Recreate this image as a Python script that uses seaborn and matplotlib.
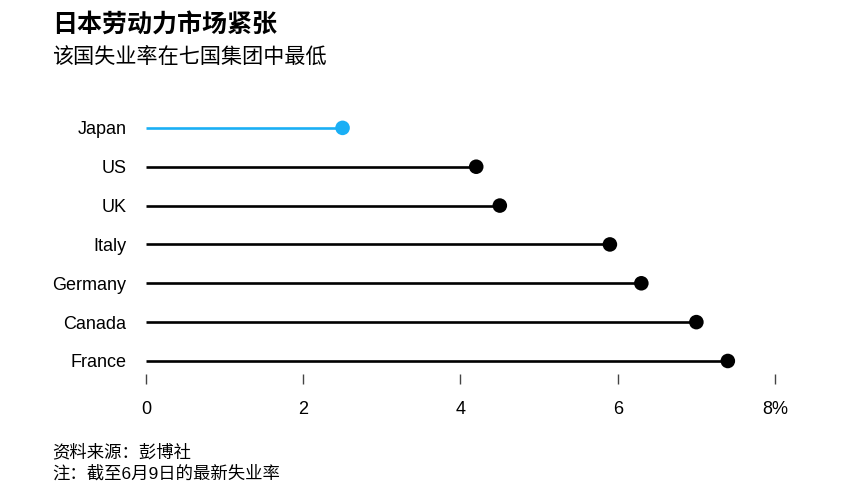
import pandas as pd
import matplotlib.pyplot as plt
import seaborn as sns

sns.set_style("white")
plt.rcParams["font.family"] = ["Liberation Sans", "Noto Sans CJK SC", "DejaVu Sans"]
plt.rcParams["text.color"] = "black"
plt.rcParams["xtick.color"] = "black"
plt.rcParams["ytick.color"] = "black"

# ---------------------------------------------------------
# Data: latest unemployment rate (%) of G7 countries
# ---------------------------------------------------------
countries = ["Japan", "US", "UK", "Italy", "Germany", "Canada", "France"]
rates = [2.5, 4.2, 4.5, 5.9, 6.3, 7.0, 7.4]
x_ticks = [0, 2, 4, 6, 8]
x_tick_labels = ["0", "2", "4", "6", "8%"]

BLUE = "#1aaff5"
BLACK = "#000000"

df = pd.DataFrame({"country": countries, "rate": rates})
df["pos"] = range(len(df))
df["group"] = ["Japan" if c == "Japan" else "other" for c in df["country"]]
colors = {"Japan": BLUE, "other": BLACK}

fig = plt.figure(figsize=(8.51, 4.95), dpi=100)
ax = fig.add_axes([146 / 851, (495 - 374) / 495, 629 / 851, 264 / 495])

# lollipop stems
for _, row in df.iterrows():
    ax.hlines(row["pos"], 0, row["rate"], color=colors[row["group"]], lw=1.9, zorder=1)

# lollipop heads
sns.scatterplot(
    data=df, x="rate", y="pos", hue="group", palette=colors,
    s=110, edgecolor="none", legend=False, ax=ax, zorder=2, clip_on=False,
)

ax.set_xlim(0, 8)
ax.set_ylim(6.335, -0.46)
ax.set_yticks(df["pos"])
ax.set_yticklabels(countries, fontsize=13)
ax.set_xticks(x_ticks)
ax.set_xticklabels(x_tick_labels, fontsize=13)
ax.set_xlabel("")
ax.set_ylabel("")
ax.tick_params(axis="y", left=False, length=0, pad=14)
ax.tick_params(axis="x", bottom=True, direction="out", length=7.5, width=1,
               color="#444444", labelcolor="black", pad=12)
for side in ["top", "right", "bottom", "left"]:
    ax.spines[side].set_visible(False)
ax.grid(False)

# titles and notes
fig.text(52 / 851, 1 - 25 / 495, "日本劳动力市场紧张", fontsize=18, fontweight="bold",
         va="center", ha="left")
fig.text(52 / 851, 1 - 57 / 495, "该国失业率在七国集团中最低", fontsize=15.2,
         va="center", ha="left")
fig.text(52 / 851, 1 - 452 / 495, "资料来源：彭博社", fontsize=12.5, va="center", ha="left")
fig.text(52 / 851, 1 - 473 / 495, "注：截至6月9日的最新失业率", fontsize=12.5, va="center", ha="left")

fig.savefig("out.png", dpi=100)
